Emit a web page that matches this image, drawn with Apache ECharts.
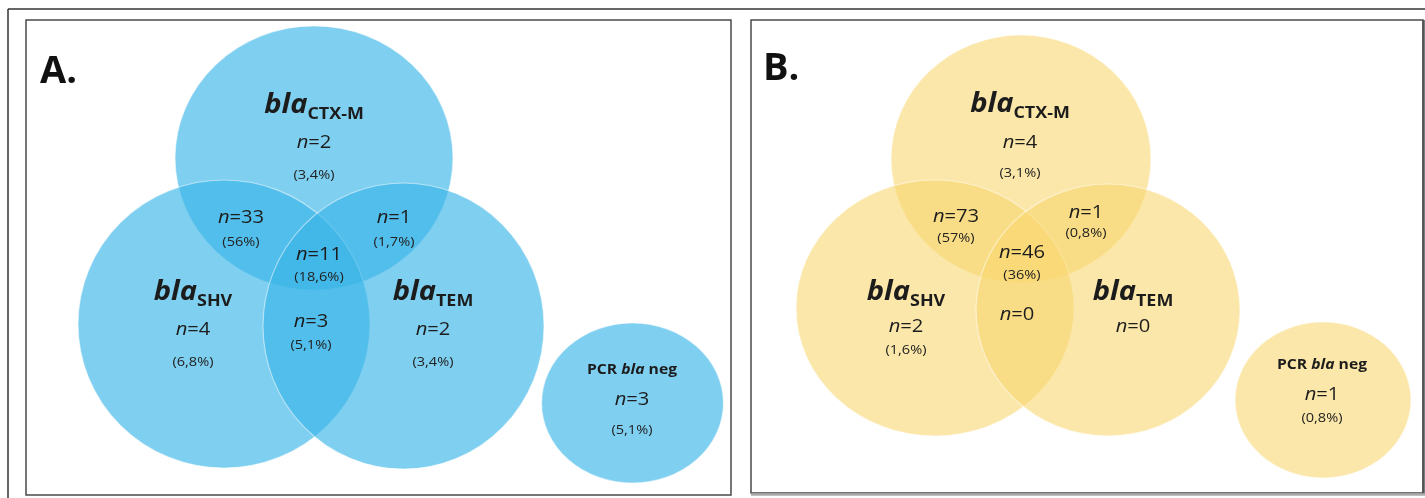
<!DOCTYPE html>
<html>
<head>
<meta charset="utf-8">
<script src="https://cdn.jsdelivr.net/npm/echarts@6/dist/echarts.min.js"></script>
<style>
  html, body { margin: 0; padding: 0; background: #fff; }
  #chart { width: 1425px; height: 498px; }
</style>
</head>
<body>
<div id="chart"></div>
<script>
// ---- data ----
const panelTitles = ['A.', 'B.'];
const geneSets = ['CTX-M', 'SHV', 'TEM'];
// regions: CTX-M only, SHV only, TEM only, CTX-M+SHV, CTX-M+TEM, all three, SHV+TEM, PCR bla negative
const regionNames = ['CTX-M', 'SHV', 'TEM', 'CTX-M+SHV', 'CTX-M+TEM', 'CTX-M+SHV+TEM', 'SHV+TEM', 'neg'];
const countsA = [2, 4, 2, 33, 1, 11, 3, 3];
const percentA = [3.4, 6.8, 3.4, 56, 1.7, 18.6, 5.1, 5.1];
const countsB = [4, 2, 0, 73, 1, 46, 0, 1];
const percentB = [3.1, 1.6, null, 57, 0.8, 36, null, 0.8];

// ---- layout (panel-local units, origin at the panel's top-left corner) ----
// ellipses: CTX-M, SHV, TEM, PCR negative -> [cx, cy, rx, ry]
const shapesA = [[288, 138, 139, 132], [198, 304, 146, 144], [377.5, 306, 140.5, 143], [606.5, 383, 91, 80]];
const shapesB = [[270, 139, 130, 124], [184, 288, 139, 128], [357, 290, 132, 126], [572, 380, 88, 78]];
// title anchor
const titlePosA = [14, 52];
const titlePosB = [12, 49];
// set-name anchors: CTX-M, SHV, TEM, PCR negative
const namePosA = [[288, 86], [167, 273], [407, 273], [606, 350]];
const namePosB = [[269, 85], [155, 273], [382, 273], [571, 345]];
// "n=" anchors and percentage anchors per region (same order as regionNames)
const nPosA = [[288, 123], [167, 310], [407, 310], [215, 198], [368, 198], [293, 235], [285, 302], [606, 380]];
const pctPosA = [[288, 155], [167, 342], [407, 342], [215, 222], [368, 222], [293, 257], [285, 325], [606, 410]];
const nPosB = [[269, 123], [155, 307], [382, 307], [205, 197], [335, 193], [271, 233], [266, 295], [571, 375]];
const pctPosB = [[269, 153], [155, 330], [382, 330], [205, 218], [335, 213], [271, 255], [266, 318], [571, 398]];

// panel boxes in page pixels
const boxes = [
  { left: 26, top: 20, width: 705, height: 475 },
  { left: 751, top: 20, width: 672, height: 473 }
];
const fills = ['rgba(58,181,232,0.65)', 'rgba(248,215,112,0.6)'];

const FONT = '"Open Sans", "Liberation Sans", sans-serif';
const INK = '#1c1c1c';
const STRETCH = 1.12;

const richStyles = {
  b: { fontFamily: FONT, fontSize: 26, fontWeight: 'bold', fontStyle: 'italic', fill: INK, lineHeight: 32, verticalAlign: 'middle' },
  s: { fontFamily: FONT, fontSize: 16, fontWeight: 'bold', fill: INK, lineHeight: 16, verticalAlign: 'bottom' },
  pb: { fontFamily: FONT, fontSize: 14, fontWeight: 'bold', fill: INK },
  pi: { fontFamily: FONT, fontSize: 14, fontWeight: 'bold', fontStyle: 'italic', fill: INK },
  ni: { fontFamily: FONT, fontSize: 18, fontStyle: 'italic', fill: INK },
  nr: { fontFamily: FONT, fontSize: 18, fill: INK },
  pc: { fontFamily: FONT, fontSize: 13, fill: '#222' },
  t: { fontFamily: FONT, fontSize: 38, fontWeight: 'bold', fill: '#111' }
};

function fmtPct(v) {
  return '(' + String(v).replace('.', ',') + '%)';
}

function buildTexts(p, counts, percents, titlePos, namePos, nPos, pctPos) {
  const items = [];
  items.push({ pos: titlePos, text: '{t|' + panelTitles[p] + '}', align: 'left', scale: 1 });
  geneSets.forEach(function (g, i) {
    items.push({ pos: namePos[i], text: '{b|bla}{s|' + g + '}', align: 'center', scale: STRETCH });
  });
  items.push({ pos: namePos[3], text: '{pb|PCR }{pi|bla}{pb| neg}', align: 'center', scale: STRETCH });
  regionNames.forEach(function (r, i) {
    items.push({ pos: nPos[i], text: '{ni|n}{nr|=' + counts[i] + '}', align: 'center', scale: STRETCH });
    if (percents[i] !== null) {
      items.push({ pos: pctPos[i], text: '{pc|' + fmtPct(percents[i]) + '}', align: 'center', scale: STRETCH });
    }
  });
  return items;
}

const panels = [
  { shapes: shapesA, texts: buildTexts(0, countsA, percentA, titlePosA, namePosA, nPosA, pctPosA) },
  { shapes: shapesB, texts: buildTexts(1, countsB, percentB, titlePosB, namePosB, nPosB, pctPosB) }
];

const grids = boxes.map(function (b) {
  return Object.assign({}, b, {
    show: true,
    backgroundColor: '#fff',
    borderColor: '#4a4a4a',
    borderWidth: 1.5
  });
});
const xAxes = boxes.map(function (b, i) {
  return { type: 'value', gridIndex: i, min: 0, max: b.width, show: false };
});
const yAxes = boxes.map(function (b, i) {
  return { type: 'value', gridIndex: i, min: 0, max: b.height, inverse: true, show: false };
});

const series = [];
panels.forEach(function (panel, p) {
  series.push({
    type: 'custom',
    name: 'sets-' + p,
    xAxisIndex: p,
    yAxisIndex: p,
    silent: true,
    data: panel.shapes,
    renderItem: function (params, api) {
      const c = api.coord([api.value(0), api.value(1)]);
      const s = api.size([api.value(2), api.value(3)]);
      return {
        type: 'circle',
        x: c[0],
        y: c[1],
        scaleX: s[0] / s[1],
        shape: { cx: 0, cy: 0, r: s[1] },
        style: { fill: fills[p], stroke: 'rgba(255,255,255,0.5)', lineWidth: 1.2, strokeNoScale: true }
      };
    },
    z: 2
  });
  series.push({
    type: 'custom',
    name: 'labels-' + p,
    xAxisIndex: p,
    yAxisIndex: p,
    silent: true,
    data: panel.texts.map(function (t) { return t.pos; }),
    renderItem: function (params, api) {
      const t = panel.texts[params.dataIndex];
      const c = api.coord([api.value(0), api.value(1)]);
      return {
        type: 'text',
        x: c[0],
        y: c[1],
        scaleX: t.scale,
        style: {
          text: t.text,
          rich: richStyles,
          align: t.align,
          verticalAlign: 'middle'
        }
      };
    },
    z: 3
  });
});

const frame = { stroke: '#333', lineWidth: 1.5 };
const chart = echarts.init(document.getElementById('chart'), null, { renderer: 'canvas' });
chart.setOption({
  animation: false,
  backgroundColor: '#fff',
  grid: grids,
  xAxis: xAxes,
  yAxis: yAxes,
  graphic: [
    // outer figure frame
    { type: 'line', shape: { x1: 8, y1: 9, x2: 1425, y2: 9 }, style: frame, silent: true },
    { type: 'line', shape: { x1: 8, y1: 9, x2: 8, y2: 498 }, style: frame, silent: true },
    // heavier right and bottom edges of panel B
    { type: 'line', shape: { x1: 1423.5, y1: 20, x2: 1423.5, y2: 495 }, style: { stroke: '#555', lineWidth: 2.5 }, silent: true, z: 10 },
    { type: 'line', shape: { x1: 751, y1: 494.5, x2: 1425, y2: 494.5 }, style: { stroke: '#aaa', lineWidth: 2.5 }, silent: true, z: 10 }
  ],
  series: series
});
</script>
</body>
</html>
